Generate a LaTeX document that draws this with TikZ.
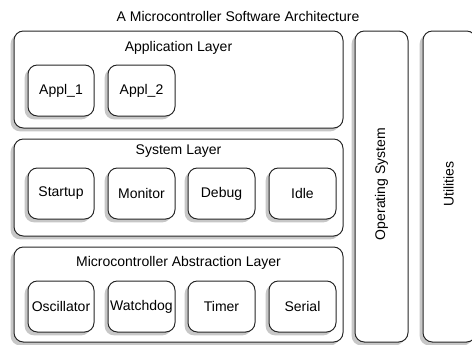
\documentclass[tikz,border=0pt]{standalone}
\usepackage{fontspec}
\setmainfont{Liberation Sans}
\usetikzlibrary{fit,shadows}
\begin{document}
\begin{tikzpicture}[x=0.75pt,y=-0.75pt,
  box/.style={draw=black!85, line width=0.75pt, fill=white, rounded corners=7pt, inner sep=0pt,
    drop shadow={shadow xshift=-2.5pt, shadow yshift=-2.5pt, fill=black!22, opacity=1}},
  lbl/.style={font=\fontsize{10.5}{12}\selectfont, inner sep=0pt}]
\useasboundingbox (0,0) rectangle (472,344);
\clip (0,0) rectangle (472,344);
\node[lbl] (title) at (238,16) {A Microcontroller Software Architecture};
% Application layer
\node[box, fit={(14,31) (343,128)}] (app) {};
\node[lbl] (apptxt) at (178.5,48) {Application Layer};
\node[box, fit={(28,65) (94,116)}] (a1) {};
\node[lbl] (a1t) at (a1.center) {Appl\_1};
\node[box, fit={(108,65) (175,116)}] (a2) {};
\node[lbl] (a2t) at (a2.center) {Appl\_2};
% System layer
\node[box, fit={(14,139) (343,236)}] (sys) {};
\node[lbl] (systxt) at (178.5,151) {System Layer};
\node[box, fit={(28,168) (94,219)}] (s1) {};
\node[lbl] (s1t) at (s1.center) {Startup};
\node[box, fit={(108,168) (175,219)}] (s2) {};
\node[lbl] (s2t) at (s2.center) {Monitor};
\node[box, fit={(188,168) (255,219)}] (s3) {};
\node[lbl] (s3t) at (s3.center) {Debug};
\node[box, fit={(269,168) (336,219)}] (s4) {};
\node[lbl] (s4t) at (s4.center) {Idle};
% MAL
\node[box, fit={(14,247) (343,342)}] (mal) {};
\node[lbl] (maltxt) at (178.5,263) {Microcontroller Abstraction Layer};
\node[box, fit={(28,281) (94,332)}] (m1) {};
\node[lbl] (m1t) at (m1.center) {Oscillator};
\node[box, fit={(108,281) (175,332)}] (m2) {};
\node[lbl] (m2t) at (m2.center) {Watchdog};
\node[box, fit={(188,281) (255,332)}] (m3) {};
\node[lbl] (m3t) at (m3.center) {Timer};
\node[box, fit={(269,281) (336,332)}] (m4) {};
\node[lbl] (m4t) at (m4.center) {Serial};
% OS and Utilities
\node[box, fit={(355,31) (408,342)}] (os) {};
\node[lbl, rotate=90] (ostxt) at (381.5,184) {Operating System};
\node[box, fit={(423,31) (476,342)}] (ut) {};
\node[lbl, rotate=90] (uttxt) at (448.5,184) {Utilities};
\end{tikzpicture}
\end{document}
